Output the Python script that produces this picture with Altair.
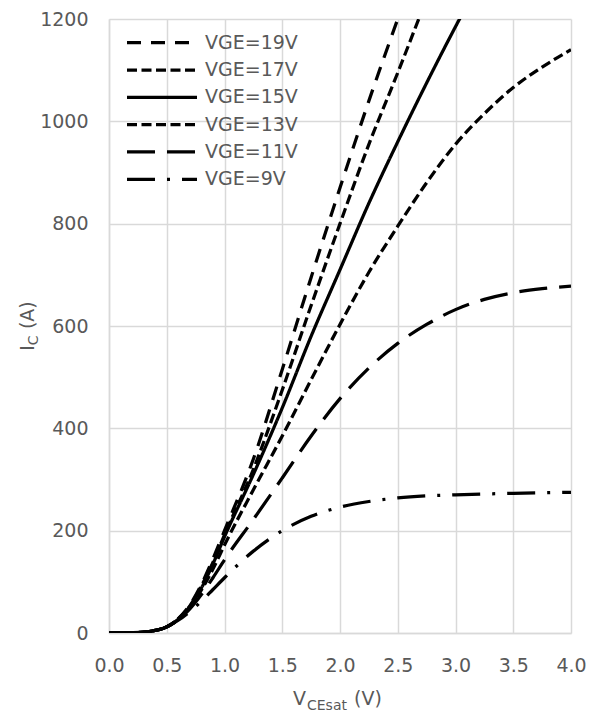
import altair as alt
import pandas as pd

FONT = "DejaVu Sans"
TEXT_GREY = "#595959"
GRID_GREY = "#d9d9d9"

# Output characteristics: collector current vs. saturation voltage per gate voltage
series = ["VGE=19V", "VGE=17V", "VGE=15V", "VGE=13V", "VGE=11V", "VGE=9V"]
dash_styles = [[14, 10], [10, 4.5], [1, 0], [10, 4.5], [28, 12], [28, 12, 3, 12]]

vce_19 = [0, 0.2, 0.4, 0.5, 0.6, 0.7, 0.8, 0.9, 1.0, 1.25, 1.5, 1.75, 2.0, 2.25, 2.5]
ic_19 = [0, 0.5, 5, 12, 28, 55, 95, 145, 200, 340, 515, 695, 870, 1040, 1200]

vce_17 = [0, 0.2, 0.4, 0.5, 0.6, 0.7, 0.8, 0.9, 1.0, 1.25, 1.5, 1.75, 2.0, 2.25, 2.5, 2.75]
ic_17 = [0, 0.5, 5, 12, 28, 53, 92, 138, 192, 320, 475, 640, 800, 955, 1095, 1240]

vce_15 = [0, 0.2, 0.4, 0.5, 0.6, 0.7, 0.8, 0.9, 1.0, 1.25, 1.5, 1.75, 2.0, 2.25, 2.5,
          2.75, 3.0, 3.25]
ic_15 = [0, 0.5, 5, 12, 27, 52, 88, 135, 188, 310, 440, 580, 710, 840, 960,
         1075, 1185, 1290]

vce_13 = [0, 0.2, 0.4, 0.5, 0.6, 0.7, 0.8, 0.9, 1.0, 1.25, 1.5, 1.75, 2.0, 2.25, 2.5,
          2.75, 3.0, 3.25, 3.5, 3.75, 4.0]
ic_13 = [0, 0.5, 5, 12, 27, 50, 84, 125, 172, 280, 385, 495, 603, 705, 795,
         880, 955, 1015, 1066, 1106, 1140]

vce_11 = [0, 0.2, 0.4, 0.5, 0.6, 0.7, 0.8, 0.9, 1.0, 1.25, 1.5, 1.75, 2.0, 2.25, 2.5,
          2.75, 3.0, 3.25, 3.5, 3.75, 4.0]
ic_11 = [0, 0.5, 5, 12, 26, 47, 75, 108, 143, 222, 303, 385, 458, 518, 566,
         603, 632, 652, 665, 673, 678]

vce_9 = [0, 0.2, 0.4, 0.5, 0.6, 0.7, 0.8, 0.9, 1.0, 1.25, 1.5, 1.75, 2.0, 2.25, 2.5,
         2.75, 3.0, 3.5, 4.0]
ic_9 = [0, 0.5, 5, 12, 25, 42, 62, 85, 108, 160, 200, 228, 246, 257, 264,
        268, 270, 273, 275]

x_ticks = [0.0, 0.5, 1.0, 1.5, 2.0, 2.5, 3.0, 3.5, 4.0]
y_ticks = [0, 200, 400, 600, 800, 1000, 1200]

curves = [(vce_19, ic_19), (vce_17, ic_17), (vce_15, ic_15),
          (vce_13, ic_13), (vce_11, ic_11), (vce_9, ic_9)]
rows = []
for name, (vs, cs) in zip(series, curves):
    for v, c in zip(vs, cs):
        rows.append({"series": name, "vce": v, "ic": c})
df = pd.DataFrame(rows)

W, H = 462, 614

dash_scale = alt.Scale(domain=series, range=dash_styles)

axis_style = dict(
    title=None, labelFont=FONT, labelFontSize=19, labelColor=TEXT_GREY,
    labelFlush=False, ticks=False,
    domainColor=GRID_GREY, domainWidth=1.5,
    grid=True, gridColor=GRID_GREY, gridWidth=1.5,
)

lines = alt.Chart(df).mark_line(
    clip=True, strokeWidth=3.25, color="black", interpolate="monotone"
).encode(
    x=alt.X("vce:Q",
            scale=alt.Scale(domain=[0, 4], nice=False, zero=False),
            axis=alt.Axis(values=x_ticks, format=".1f", labelPadding=23, **axis_style)),
    y=alt.Y("ic:Q",
            scale=alt.Scale(domain=[0, 1200], nice=False),
            axis=alt.Axis(values=y_ticks, format="d", labelPadding=21, **axis_style)),
    strokeDash=alt.StrokeDash("series:N", scale=dash_scale, legend=None),
)

# Legend drawn as a small table of rows in the top-left corner
leg_df = pd.DataFrame({"series": series, "row": list(range(len(series)))})
row_scale = alt.Scale(domain=[0, len(series) - 1], range=[23.7, 160.3])

leg_lines = alt.Chart(leg_df).mark_rule(strokeWidth=3.25, color="black").encode(
    x=alt.value(18), x2=alt.value(88),
    y=alt.Y("row:Q", scale=row_scale, axis=None),
    strokeDash=alt.StrokeDash("series:N", legend=None),
)
leg_text = alt.Chart(leg_df).mark_text(
    align="left", baseline="middle", font=FONT, fontSize=19, color=TEXT_GREY
).encode(
    x=alt.value(96),
    y=alt.Y("row:Q", scale=row_scale, axis=None),
    text="series:N",
)

# Axis titles with subscripts, built from pieces
def piece(text, x, y, size, angle=0):
    return alt.Chart(pd.DataFrame({"t": [text]})).mark_text(
        align="left", baseline="alphabetic", font=FONT, fontSize=size,
        color=TEXT_GREY, angle=angle
    ).encode(x=alt.value(x), y=alt.value(y), text="t:N")

x_title = [piece("V", 184, 686, 19), piece("CEsat", 198, 690.5, 14), piece("(V)", 245, 686, 19)]
y_title = [piece("I", -75, 331.75, 19, 270), piece("C", -71, 326.15, 14, 270),
           piece("(A)", -75, 310.05, 19, 270)]

chart = alt.layer(lines, leg_lines, leg_text, *x_title, *y_title).resolve_scale(
    y="independent"
).properties(
    width=W, height=H,
    padding={"left": 109, "top": 19, "right": 33, "bottom": 80},
    autosize=alt.AutoSizeParams(type="none"),
    background="white",
).configure_view(stroke=None)

chart.save("out.html", embed_options={"renderer": "svg", "actions": False})
